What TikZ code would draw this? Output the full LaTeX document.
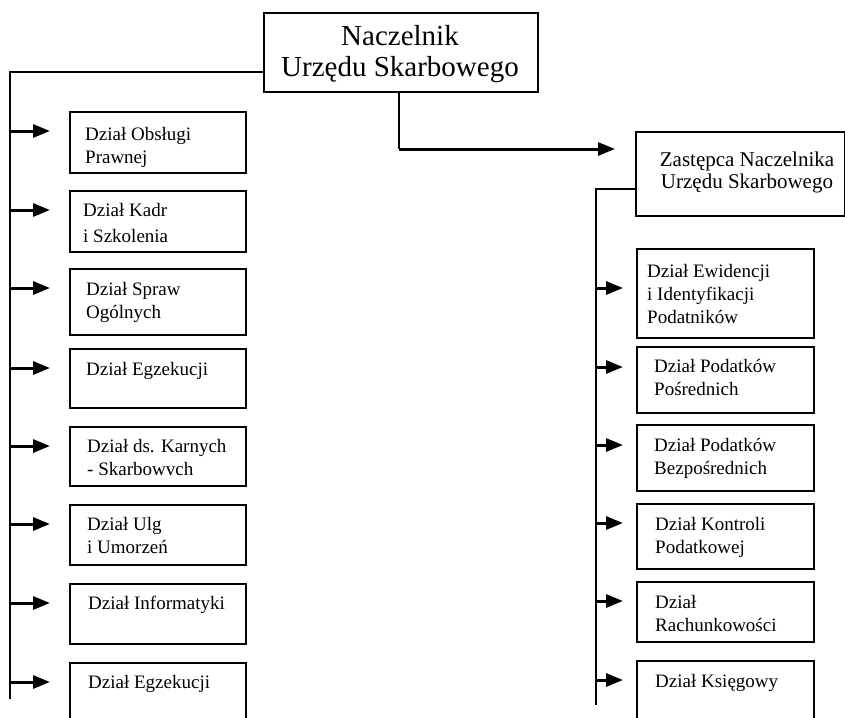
\documentclass[tikz,border=0pt]{standalone}
\usepackage{fontspec}
\setmainfont{Liberation Serif}
\usetikzlibrary{arrows.meta}
\begin{document}
\begin{tikzpicture}[x=1pt,y=-1pt,
  box/.style={draw, line width=2.2pt, inner sep=0pt, anchor=north west},
  lbl/.style={anchor=base west, align=left, inner sep=0pt,
    font=\fontsize{19}{23}\selectfont},
  head/.style={anchor=base, align=center, inner sep=0pt},
  link/.style={line width=2pt},
  arr/.style={line width=3pt, -{Triangle[length=17pt,width=13pt]}}]
\clip (0,0) rectangle (845,717);
\fill[white] (0,0) rectangle (845,717);

% chief and deputy (text placed by the baseline of its last line)
\node[box, minimum width=274pt, minimum height=79pt] (main) at (263,12) {};
\node[head, font=\fontsize{29}{31}\selectfont] (maint) at (400,76) {Naczelnik\\Urzędu Skarbowego};
\node[box, minimum width=209pt, minimum height=84pt] (dep) at (635,131) {};
\node[head, font=\fontsize{21}{22}\selectfont] (dept) at (747,188) {Zastępca Naczelnika\\Urzędu Skarbowego};

% trunks
\coordinate (lt0) at (10,72);
\coordinate (lt1) at (10,699);
\coordinate (rt0) at (596,189);
\coordinate (rt1) at (596,705);
\coordinate (md) at (399,149);
\draw[link] (main.west |- lt0) -- (lt0) -- (lt1);
\draw[link] (dep.west |- rt0) -- (rt0) -- (rt1);
\draw[link] (main.south -| md) -- (md);
\draw[arr, shorten >=20pt] (md) -- (dep.west |- md);

% departments reporting to the chief
\foreach \n/\t/\h/\tx/\bl/\txt in {
  1/111/61/85/163/{Dział Obsługi\\Prawnej},
  2/190/61/83/242/{Dział Kadr\\[3pt]i Szkolenia},
  3/268/66/86/318/{Dział Spraw\\Ogólnych},
  4/348/59/86/375/{Dział Egzekucji},
  5/426/59/87/475/{Dział ds. Karnych\\- Skarbowvch},
  6/504/60/87/553/{Dział Ulg\\i Umorzeń},
  7/583/60/88/609/{Dział Informatyki},
  8/662/70/88/688/{Dział Egzekucji}}{
  \node[box, minimum width=176pt, minimum height=\h pt] (l\n) at (69,\t) {};
  \node[lbl] (lt\n) at (\tx,\bl) {\txt};
  \coordinate (la\n) at ([yshift=-20pt]l\n.north west);
  \draw[arr, shorten >=19pt] (lt0 |- la\n) -- (la\n);
}

% departments reporting to the deputy
\foreach \n/\t/\h/\ay/\tx/\bl/\txt in {
  1/248/89/288/647/323/{Dział Ewidencji\\i Identyfikacji\\Podatników},
  2/346/66/367/654/395/{Dział Podatków\\Pośrednich},
  3/424/66/445/654/474/{Dział Podatków\\Bezpośrednich},
  4/503/65/523/655/553/{Dział Kontroli\\Podatkowej},
  5/581/60/601/655/631/{Dział\\Rachunkowości},
  6/660/70/680/655/687/{Dział Księgowy}}{
  \node[box, minimum width=177pt, minimum height=\h pt] (r\n) at (636,\t) {};
  \node[lbl] (rt\n) at (\tx,\bl) {\txt};
  \coordinate (ra\n) at (636,\ay);
  \draw[arr, shorten >=13pt] (rt0 |- ra\n) -- (ra\n);
}
\end{tikzpicture}
\end{document}
